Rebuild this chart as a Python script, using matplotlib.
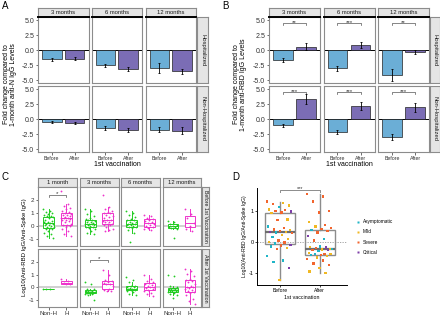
import matplotlib.pyplot as plt
import numpy as np
from matplotlib.lines import Line2D

plt.rcParams['font.family'] = ['Liberation Sans', 'DejaVu Sans']
plt.rcParams['axes.unicode_minus'] = False

W, H = 440, 317
fig = plt.figure(figsize=(W / 100, H / 100), dpi=100)

# ---------------- data ----------------
ab_times = ['3 months', '6 months', '12 months']
ab_rows = ['Hospitalized', 'Non-Hospitalized']
ab_vacc = ['Before', 'After']

a_hosp = [[-1.5, -1.4], [-2.5, -3.1], [-3.0, -3.5]]
a_hosp_err = [[0.25, 0.2], [0.25, 0.3], [0.8, 0.4]]
a_nonhosp = [[-0.5, -0.6], [-1.5, -1.8], [-1.7, -1.9]]
a_nonhosp_err = [[0.15, 0.2], [0.35, 0.3], [0.4, 0.6]]

b_hosp = [[-1.6, 0.6], [-3.0, 0.9], [-4.1, -0.3]]
b_hosp_err = [[0.3, 0.6], [0.4, 0.5], [1.0, 0.4]]
b_nonhosp = [[-1.0, 3.4], [-2.1, 2.2], [-2.9, 2.0]]
b_nonhosp_err = [[0.2, 0.9], [0.3, 0.7], [0.5, 0.8]]
b_hosp_sig = ['**', '***', '**']
b_nonhosp_sig = ['***', '***', '***']

c_times = ['1 month', '3 months', '6 months', '12 months']
c_groups = ['Non-H', 'H']
c_rows = ['Before 1st Vaccination', 'After 1st Vaccination']

c_before_nonh = [
    [1.3, 1.2, 1.1, 1.0, 0.95, 0.9, 0.8, 0.75, 0.7, 0.65, 0.5, 0.4, 0.35, 0.3, 0.25,
     0.2, 0.15, 0.1, 0.05, 0.0, -0.05, -0.1, -0.15, -0.2, -0.25, -0.35, -0.5, -0.6, -0.75, -0.9],
    [1.3, 1.15, 0.95, 0.8, 0.6, 0.55, 0.5, 0.45, 0.4, 0.35, 0.3, 0.25, 0.2, 0.2, 0.15,
     0.1, 0.05, 0.0, -0.05, -0.1, -0.15, -0.2, -0.35, -0.5, -0.6],
    [1.2, 1.05, 0.9, 0.7, 0.55, 0.5, 0.45, 0.35, 0.3, 0.25, 0.2, 0.15, 0.1, 0.05, 0.0,
     -0.05, -0.1, -0.15, -0.3, -0.5, -1.2],
    [0.4, 0.3, 0.15, 0.1, 0.0, -0.05, -0.1, -0.15, -0.2, -0.9],
]
c_before_h = [
    [2.7, 1.7, 1.6, 1.45, 1.3, 1.2, 1.1, 1.0, 0.95, 0.9, 0.85, 0.8, 0.7, 0.65, 0.6,
     0.6, 0.55, 0.5, 0.45, 0.4, 0.3, 0.2, 0.1, 0.05, 0.0, -0.1, -0.2, -0.4, -0.6, -0.8],
    [2.45, 1.5, 1.35, 1.2, 1.1, 1.05, 1.0, 0.9, 0.8, 0.7, 0.6, 0.5, 0.45, 0.4, 0.35,
     0.3, 0.2, 0.15, 0.1, 0.05, -0.1, -0.2, -0.3, -0.35],
    [0.9, 0.8, 0.65, 0.55, 0.5, 0.4, 0.3, 0.25, 0.2, 0.1, 0.0, -0.1, -0.15, -0.25, -0.3],
    [1.3, 0.95, 0.6, 0.25, 0.0, -0.2, -0.35],
]
c_after_nonh = [
    [-0.15, -0.15, -0.15],
    [0.4, 0.25, -0.1, -0.15, -0.2, -0.25, -0.3, -0.3, -0.35, -0.35, -0.4, -0.4, -0.45,
     -0.5, -0.55, -0.6, -1.0],
    [0.8, 0.6, 0.4, 0.15, 0.1, 0.05, 0.0, -0.05, -0.1, -0.1, -0.15, -0.2, -0.2, -0.25,
     -0.35, -0.5, -0.6],
    [1.0, 0.9, 0.1, 0.0, -0.05, -0.1, -0.15, -0.15, -0.2, -0.2, -0.25, -0.3, -0.3, -0.35,
     -0.4, -0.5, -0.6, -0.85],
]
c_after_h = [
    [0.7, 0.5, 0.35, 0.3, 0.3],
    [1.35, 0.95, 0.6, 0.5, 0.45, 0.35, 0.3, 0.25, 0.1, -0.1, -0.2, -0.25, -0.3],
    [0.95, 0.7, 0.5, 0.4, 0.35, 0.3, 0.2, 0.1, 0.05, 0.0, -0.05, -0.1, -0.2, -0.25, -0.4,
     -0.55, -0.65],
    [1.5, 1.3, 1.1, 0.9, 0.7, 0.6, 0.5, 0.4, 0.3, 0.15, 0.05, 0.0, -0.05, -0.1, -0.2,
     -0.3, -0.35, -0.4, -0.6, -0.9, -1.1, -1.35],
]

d_severity = ['Asymptomatic', 'Mild', 'Severe', 'Critical']
d_before = [1.30, 1.25, 1.22, 1.18, 1.12, 1.05, 1.02, 1.0, 0.98, 0.95, 0.93, 0.72, 0.7,
            0.5, 0.45, 0.4, 0.38, 0.35, 0.33, 0.31, 0.3, 0.28, 0.22, 0.15, 0.1, 0.05,
            0.0, -0.02, -0.05, -0.1, -0.12, -0.15, -0.2, -0.22, -0.45, -0.6, -0.65,
            -0.85, -1.22]
d_before_sev = ['Severe', 'Mild', 'Severe', 'Mild', 'Asymptomatic', 'Mild', 'Severe',
                'Severe', 'Critical', 'Severe', 'Mild', 'Mild', 'Severe', 'Asymptomatic',
                'Severe', 'Severe', 'Mild', 'Severe', 'Critical', 'Mild', 'Asymptomatic',
                'Severe', 'Mild', 'Asymptomatic', 'Mild', 'Severe', 'Mild', 'Severe',
                'Asymptomatic', 'Critical', 'Severe', 'Asymptomatic', 'Mild', 'Severe',
                'Asymptomatic', 'Asymptomatic', 'Asymptomatic', 'Critical', 'Mild']
d_after = [1.55, 1.47, 1.3, 1.0, 0.95, 0.65, 0.55, 0.5, 0.45, 0.42, 0.38, 0.36, 0.3,
           0.2, 0.1, 0.05, -0.23, -0.15, -0.17, -0.18, -0.2, -0.22, -0.24, -0.25, -0.27,
           -0.3, -0.35, -0.38, -0.4, -0.4, -0.42, -0.42, -0.45, -0.5, -0.55, -0.6, -0.7,
           -0.75, -0.85, -0.95, -1.0]
d_after_sev = ['Severe', 'Severe', 'Severe', 'Severe', 'Severe', 'Mild', 'Severe', 'Mild',
               'Severe', 'Severe', 'Asymptomatic', 'Severe', 'Severe', 'Critical',
               'Asymptomatic', 'Severe', 'Mild', 'Asymptomatic', 'Mild', 'Critical',
               'Severe', 'Asymptomatic', 'Mild', 'Severe', 'Critical', 'Asymptomatic',
               'Mild', 'Severe', 'Asymptomatic', 'Mild', 'Severe', 'Asymptomatic', 'Mild',
               'Mild', 'Severe', 'Severe', 'Severe', 'Severe', 'Mild', 'Mild', 'Mild']

# ---------------- styles ----------------
c_before = '#6BAED6'
c_after = '#7B6DB5'
c_nonh = '#22CC22'
c_h = '#EE33CC'
sev_colors = {'Asymptomatic': '#1FB5C7', 'Mild': '#F0B823',
              'Severe': '#F2652E', 'Critical': '#7E3FA8'}
border = '#8C8C8C'
tick_col = '#333333'


def px_axes(x0, y0, x1, y1):
    return fig.add_axes([x0 / W, 1 - y1 / H, (x1 - x0) / W, (y1 - y0) / H])


def strip(x0, y0, x1, y1, text, rot=0, size=4.2):
    ax = px_axes(x0, y0, x1, y1)
    ax.set_facecolor('#E5E5E5')
    ax.set_xticks([])
    ax.set_yticks([])
    for s in ax.spines.values():
        s.set_color(border)
        s.set_linewidth(0.8)
    ax.text(0.5, 0.5, text, transform=ax.transAxes, ha='center', va='center',
            rotation=rot, fontsize=size, color='#1A1A1A')


def frame(ax):
    for s in ax.spines.values():
        s.set_color(border)
        s.set_linewidth(0.8)
    ax.tick_params(length=1.8, width=0.5, color=tick_col, labelcolor=tick_col, pad=1)


def jitter(n, width):
    k = np.arange(n)
    return ((k * 0.618034) % 1 - 0.5) * 2 * width


def bar_panel(x0, y0, x1, y1, means, errs, left, bottom, top_line, sig=None):
    ax = px_axes(x0, y0, x1, y1)
    frame(ax)
    xs = np.arange(1, 3)
    ax.axhline(0, color='black', lw=0.7, zorder=1)
    ax.bar(xs, means, width=0.85, color=[c_before, c_after], edgecolor='#222222',
           linewidth=0.5, zorder=2)
    ax.errorbar(xs, means, yerr=errs, fmt='none', ecolor='black', elinewidth=0.6,
                capsize=1, capthick=0.6, zorder=3)
    ax.set_xlim(0.4, 2.6)
    ax.set_ylim(-5.45, 5.55)
    ax.set_yticks([5.0, 2.5, 0.0, -2.5, -5.0])
    ax.set_xticks(xs)
    if left:
        ax.set_yticklabels(['5.0', '2.5', '0.0', '-2.5', '-5.0'], fontsize=5)
    else:
        ax.tick_params(axis='y', length=0, labelleft=False)
    if bottom:
        ax.set_xticklabels(ab_vacc, fontsize=3.8)
    else:
        ax.tick_params(axis='x', length=0, labelbottom=False)
    if top_line:
        ax.axhline(5.55, color='black', lw=1.4, zorder=4, clip_on=False)
    if sig:
        ax.plot([1, 1, 2, 2], [4.25, 4.55, 4.55, 4.25], color='#555555', lw=0.5)
        ax.text(1.5, 4.6, sig, ha='center', va='center', fontsize=4.5, color='#333333')
    return ax


def bar_figure(cols, right_strip, means_rows, errs_rows, sig_rows, ylabel, ylabel_x, letter, letter_x):
    rows = [(17, 83), (86, 152)]
    for j, (cx0, cx1) in enumerate(cols):
        strip(cx0, 7.5, cx1, 16.5, ab_times[j])
    for i, (ry0, ry1) in enumerate(rows):
        for j, (cx0, cx1) in enumerate(cols):
            sig = sig_rows[i][j] if sig_rows else None
            bar_panel(cx0, ry0, cx1, ry1, means_rows[i][j], errs_rows[i][j],
                      left=(j == 0), bottom=(i == 1), top_line=(i == 0), sig=sig)
        strip(right_strip[0], ry0, right_strip[1], ry1, ab_rows[i], rot=-90)
    mid = (cols[0][0] + cols[-1][1]) / 2
    fig.text(mid / W, 1 - 164 / H, '1st vaccination', ha='center', va='center', fontsize=5)
    fig.text(ylabel_x / W, 1 - 84.5 / H, ylabel, ha='center', va='center', rotation=90,
             fontsize=5, linespacing=1.15)
    fig.text(letter_x / W, 1 - 1 / H, letter, ha='left', va='top', fontsize=7)


# ---------------- panel A ----------------
bar_figure([(38, 88.5), (91.5, 142), (145.5, 196)], (197, 208),
           [a_hosp, a_nonhosp], [a_hosp_err, a_nonhosp_err], None,
           'Fold change compared to\n1-month anti-N IgG Levels', 10, 'A', 2)

# ---------------- panel B ----------------
bar_figure([(269, 320), (323.5, 374.5), (378, 429)], (430, 440),
           [b_hosp, b_nonhosp], [b_hosp_err, b_nonhosp_err], [b_hosp_sig, b_nonhosp_sig],
           'Fold change compared to\n1-month anti-RBD IgG Levels', 240, 'B', 222)

# ---------------- panel C ----------------
c_cols = [(38, 77), (79.5, 118.5), (121, 160), (162.5, 200.5)]
c_rows_px = [(187, 246), (249, 307)]
c_data = [[c_before_nonh, c_before_h], [c_after_nonh, c_after_h]]
c_sig = [{0: '*'}, {1: '*'}]
c_sig_y = [2.4, 2.15]

for j, (cx0, cx1) in enumerate(c_cols):
    strip(cx0, 177.5, cx1, 186.5, c_times[j], size=4.2)

for i, (ry0, ry1) in enumerate(c_rows_px):
    for j, (cx0, cx1) in enumerate(c_cols):
        ax = px_axes(cx0, ry0, cx1, ry1)
        frame(ax)
        ax.axhline(0, color='#C8C8C8', lw=1.2, zorder=0)
        for g, col in enumerate([c_nonh, c_h]):
            vals = c_data[i][g][j]
            ax.boxplot([vals], positions=[g + 1], widths=0.62, showfliers=False,
                       patch_artist=True,
                       boxprops=dict(facecolor='white', edgecolor=col, linewidth=0.7),
                       medianprops=dict(color=col, linewidth=0.7),
                       whiskerprops=dict(color=col, linewidth=0.7),
                       capprops=dict(linewidth=0))
            ax.scatter(g + 1 + jitter(len(vals), 0.3), vals, s=1.7, color=col,
                       linewidths=0, zorder=3)
        if j in c_sig[i]:
            y = c_sig_y[i]
            ax.plot([1, 1, 2, 2], [y - 0.15, y, y, y - 0.15], color='#555555', lw=0.5)
            ax.text(1.5, y + 0.12, c_sig[i][j], ha='center', va='center', fontsize=4.5,
                    color='#333333')
        ax.set_xlim(0.4, 2.6)
        ax.set_ylim(-1.55, 3.05)
        ax.set_yticks([2, 1, 0, -1])
        ax.set_xticks([1, 2])
        if j == 0:
            ax.set_yticklabels(['2', '1', '0', '-1'], fontsize=4.5)
        else:
            ax.tick_params(axis='y', length=0, labelleft=False)
        if i == 1:
            ax.set_xticklabels(c_groups, fontsize=4.5)
        else:
            ax.tick_params(axis='x', length=0, labelbottom=False)
    strip(201.5, ry0, 209, ry1, c_rows[i], rot=-90, size=3.8)

fig.text(24.5 / W, 1 - 247 / H, 'Log10(Anti-RBD IgG/Anti-Spike IgG)', ha='center',
         va='center', rotation=90, fontsize=4.3)
fig.text(2 / W, 1 - 172 / H, 'C', ha='left', va='top', fontsize=7)

# ---------------- panel D ----------------
axd = px_axes(257, 188, 347, 285)
for s in ['top', 'right']:
    axd.spines[s].set_visible(False)
for s in ['left', 'bottom']:
    axd.spines[s].set_linewidth(0.7)
axd.axhline(0, color='#999999', lw=0.6, ls=(0, (1.5, 1.5)), zorder=0)
axd.boxplot([d_before, d_after], positions=[1, 2], widths=0.75, showfliers=False,
            patch_artist=True,
            boxprops=dict(facecolor='none', edgecolor='#8C8C8C', linewidth=1.0),
            medianprops=dict(color='#6E6E6E', linewidth=1.6),
            whiskerprops=dict(color='#8C8C8C', linewidth=1.0),
            capprops=dict(linewidth=0))
for pos, vals, sevs in [(1, d_before, d_before_sev), (2, d_after, d_after_sev)]:
    xs = pos + jitter(len(vals), 0.32)
    axd.scatter(xs, vals, s=2.8, c=[sev_colors[s] for s in sevs], marker='s',
                linewidths=0, zorder=3)
axd.plot([1, 1, 2, 2], [1.6, 1.66, 1.66, 1.6], color='#8C8C8C', lw=0.7)
axd.text(1.5, 1.71, '***', ha='center', va='center', fontsize=4, color='#333333')
axd.set_xlim(0.43, 2.68)
axd.set_ylim(-1.39, 1.74)
axd.set_yticks([1, 0, -1])
axd.set_yticklabels(['1', '0', '-1'], fontsize=4)
axd.set_xticks([1, 2])
axd.set_xticklabels(ab_vacc, fontsize=3.6)
axd.tick_params(length=1.5, width=0.5, pad=1)
axd.set_xlabel('1st vaccination', fontsize=3.8, labelpad=1)
axd.set_ylabel('Log10(Anti-RBD IgG/Anti-Spike IgG)', fontsize=3.6, labelpad=1)

handles = [Line2D([], [], ls='none', marker='s', ms=1.6, mec='none', mfc=sev_colors[s])
           for s in d_severity]
axd.legend(handles, d_severity, loc='center left', bbox_to_anchor=(352 / W, 1 - 237 / H),
           bbox_transform=fig.transFigure, frameon=False, fontsize=3.4,
           handlelength=0.8, handletextpad=0.6, labelspacing=1.1)
fig.text(232 / W, 1 - 172 / H, 'D', ha='left', va='top', fontsize=7)

fig.savefig('out.png', dpi=100)
